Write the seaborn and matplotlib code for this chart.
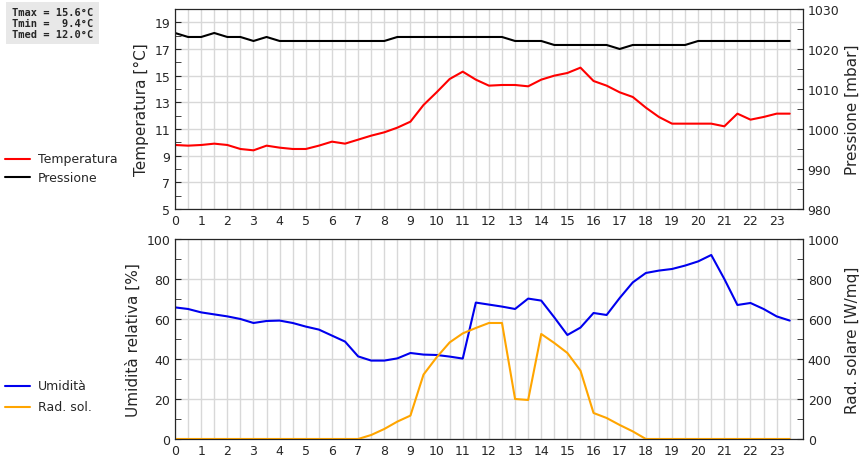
import numpy as np
import pandas as pd
import seaborn as sns
import matplotlib.pyplot as plt
from matplotlib.ticker import MultipleLocator

# half-hourly readings
ore = np.arange(48) * 0.5

temperatura = [9.8, 9.75, 9.8, 9.9, 9.8, 9.5, 9.4, 9.75, 9.6, 9.5, 9.5, 9.75,
               10.05, 9.9, 10.2, 10.5, 10.75, 11.1, 11.55, 12.8, 13.75, 14.75, 15.3, 14.7,
               14.25, 14.3, 14.3, 14.2, 14.7, 15.0, 15.2, 15.6, 14.6, 14.25, 13.75, 13.4,
               12.6, 11.9, 11.4, 11.4, 11.4, 11.4, 11.2, 12.15, 11.7, 11.9, 12.15, 12.15]

pressione = [1024, 1023, 1023, 1024, 1023, 1023, 1022, 1023, 1022, 1022, 1022, 1022,
             1022, 1022, 1022, 1022, 1022, 1023, 1023, 1023, 1023, 1023, 1023, 1023,
             1023, 1023, 1022, 1022, 1022, 1021, 1021, 1021, 1021, 1021, 1020, 1021,
             1021, 1021, 1021, 1021, 1022, 1022, 1022, 1022, 1022, 1022, 1022, 1022]

umidita = [65.8, 65, 63.3, 62.3, 61.3, 60, 58, 59, 59.2, 58, 56.2, 54.7,
           51.7, 48.7, 41.3, 39.2, 39.2, 40.3, 43, 42.2, 42, 41.2, 40.2, 68.2,
           67.2, 66.2, 65, 70.2, 69.2, 60.8, 52, 55.7, 63, 62, 70.5, 78.3,
           83, 84.2, 85, 86.7, 88.8, 92, 80, 67, 68, 65, 61.3, 59.2]

rad_sol = [0, 0, 0, 0, 0, 0, 0, 0, 0, 0, 0, 0,
           0, 0, 0, 20, 50, 87, 117, 322, 408, 483, 528, 555,
           580, 580, 200, 195, 525, 480, 430, 342, 130, 105, 70, 38,
           0, 0, 0, 0, 0, 0, 0, 0, 0, 0, 0, 0]

df = pd.DataFrame({'ora': ore, 'temp': temperatura, 'press': pressione,
                   'umid': umidita, 'rad': rad_sol})

sns.set_style('white')
plt.rcParams['font.family'] = 'DejaVu Sans'
fig = plt.figure(figsize=(8.6, 4.6), dpi=100)
grid_col = '#d8d8d8'


def style_axis(ax):
    ax.set_xlim(0, 24)
    ax.xaxis.set_major_locator(MultipleLocator(1))
    ax.xaxis.set_minor_locator(MultipleLocator(0.5))
    ax.set_xticks(range(24))
    ax.grid(True, which='both', axis='x', color=grid_col, lw=1)
    ax.grid(True, which='major', axis='y', color=grid_col, lw=1)
    ax.tick_params(which='both', direction='in', labelsize=9, length=4)
    ax.set_xlabel('')
    for s in ax.spines.values():
        s.set_color('black')


# top panel: temperature + pressure
ax1 = fig.add_axes([0.2035, 0.5435, 0.730, 0.4348])
sns.lineplot(x='ora', y='temp', data=df, ax=ax1, color='red', lw=1.5)
ax1.set_ylim(5, 20)
ax1.set_yticks(range(5, 20, 2))
ax1.yaxis.set_minor_locator(MultipleLocator(1))
style_axis(ax1)
ax1.set_ylabel('Temperatura [°C]', fontsize=11)
pax = ax1.twinx()
sns.lineplot(x='ora', y='press', data=df, ax=pax, color='black', lw=1.5)
pax.set_ylim(980, 1030)
pax.set_yticks(range(980, 1031, 10))
pax.yaxis.set_minor_locator(MultipleLocator(5))
pax.tick_params(which='both', direction='in', labelsize=9, length=4)
pax.set_ylabel('Pressione [mbar]', fontsize=11)

# bottom panel: humidity + solar radiation
ax2 = fig.add_axes([0.2035, 0.0435, 0.730, 0.4348])
sns.lineplot(x='ora', y='umid', data=df, ax=ax2, color='#0000ee', lw=1.5)
ax2.set_ylim(0, 100)
ax2.set_yticks(range(0, 101, 20))
ax2.yaxis.set_minor_locator(MultipleLocator(10))
style_axis(ax2)
ax2.set_ylabel('Umidità relativa [%]', fontsize=11)
rax = ax2.twinx()
sns.lineplot(x='ora', y='rad', data=df, ax=rax, color='orange', lw=1.5)
rax.set_ylim(0, 1000)
rax.set_yticks(range(0, 1001, 200))
rax.yaxis.set_minor_locator(MultipleLocator(100))
rax.tick_params(which='both', direction='in', labelsize=9, length=4)
rax.set_ylabel('Rad. solare [W/mq]', fontsize=11)

# left-side legends
legend_items = [('Temperatura', 'red', 160), ('Pressione', 'black', 178),
                ('Umidità', '#0000ee', 387), ('Rad. sol.', 'orange', 408)]
for label, col, ypx in legend_items:
    yy = 1 - ypx / 460
    fig.add_artist(plt.Line2D([5 / 860, 30 / 860], [yy, yy], color=col, lw=1.5))
    fig.text(38 / 860, yy, label, fontsize=9, va='center')

fig.text(12 / 860, 1 - 24 / 460,
         'Tmax = 15.6°C\nTmin =  9.4°C\nTmed = 12.0°C',
         family='DejaVu Sans Mono', fontsize=7.5, weight='bold', va='center',
         linespacing=1.1,
         bbox=dict(facecolor='#e8e8e8', edgecolor='none', pad=4))

fig.savefig('out.png', dpi=100)
